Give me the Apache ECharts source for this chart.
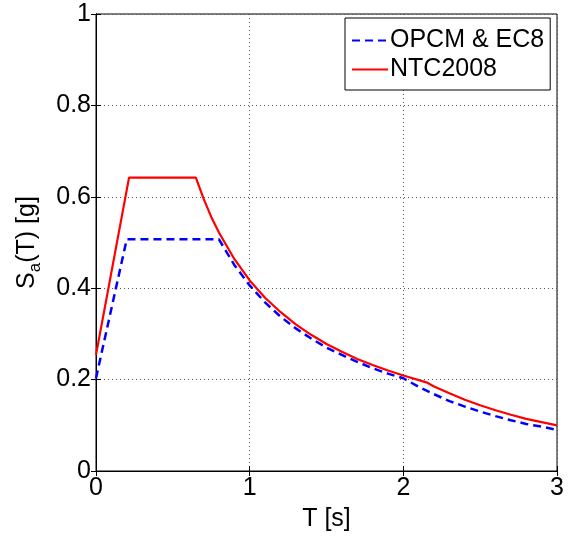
<!DOCTYPE html>
<html>
<head>
<meta charset="utf-8">
<script src="https://cdn.jsdelivr.net/npm/echarts@6/dist/echarts.min.js"></script>
<style>
  html, body { margin: 0; padding: 0; background: #fff; }
  #chart { width: 572px; height: 537px; }
</style>
</head>
<body>
<div id="chart"></div>
<script>
// spectra: [T (s), Sa (g)]
const opcmEc8 = [
  [0, 0.203], [0.2, 0.507], [0.8, 0.507], [0.9, 0.451], [1.0, 0.406],
  [1.1, 0.369], [1.2, 0.338], [1.3, 0.312], [1.4, 0.290], [1.5, 0.270],
  [1.6, 0.254], [1.7, 0.239], [1.8, 0.225], [1.9, 0.213], [2.0, 0.203],
  [2.1, 0.184], [2.2, 0.168], [2.3, 0.153], [2.4, 0.141], [2.5, 0.130],
  [2.6, 0.120], [2.7, 0.111], [2.8, 0.103], [2.9, 0.097], [3.0, 0.090]
];
const ntc2008 = [
  [0, 0.254], [0.215, 0.642], [0.65, 0.642], [0.7, 0.596], [0.75, 0.556],
  [0.8, 0.522], [0.9, 0.464], [1.0, 0.417], [1.1, 0.379], [1.2, 0.348],
  [1.3, 0.321], [1.4, 0.298], [1.5, 0.278], [1.6, 0.261], [1.7, 0.245],
  [1.8, 0.232], [1.9, 0.220], [2.0, 0.209], [2.15, 0.194], [2.2, 0.185],
  [2.3, 0.170], [2.4, 0.156], [2.5, 0.144], [2.6, 0.133], [2.7, 0.123],
  [2.8, 0.114], [2.9, 0.107], [3.0, 0.100]
];
const seriesNames = ['OPCM & EC8', 'NTC2008'];

const font = 'Liberation Sans, Arial, Helvetica, sans-serif';
const chart = echarts.init(document.getElementById('chart'), null, { renderer: 'canvas' });

const gridLine = { show: true, lineStyle: { color: '#555', type: [1, 3], width: 1 } };
const inTick = { show: true, inside: true, length: 5, lineStyle: { color: '#000' } };

chart.setOption({
  animation: false,
  backgroundColor: '#fff',
  textStyle: { fontFamily: font },
  grid: { left: 96, right: 15, top: 14, bottom: 57, show: true, borderColor: '#000', borderWidth: 1 },
  legend: {
    data: seriesNames,
    orient: 'vertical',
    left: 345,
    top: 18,
    padding: [10, 6, 8, 6],
    itemGap: 4,
    itemWidth: 36,
    itemHeight: 14,
    itemStyle: { opacity: 0 },
    backgroundColor: '#fff',
    borderColor: '#000',
    borderWidth: 1,
    borderRadius: 0,
    textStyle: { fontSize: 25, color: '#000', fontFamily: font, padding: [0, 0, 0, -3] }
  },
  xAxis: [{
    type: 'value', min: 0, max: 3, interval: 1,
    name: 'T [s]', nameLocation: 'middle', nameGap: 36,
    nameTextStyle: { fontSize: 25, color: '#000' },
    axisLine: { lineStyle: { color: '#000' } },
    axisTick: inTick,
    axisLabel: { fontSize: 25, color: '#000', margin: 5 },
    splitLine: gridLine
  }, {
    type: 'value', min: 0, max: 3, interval: 1, position: 'top',
    axisLine: { show: true, lineStyle: { color: '#000' } },
    axisTick: inTick, axisLabel: { show: false }, splitLine: { show: false }
  }],
  yAxis: [{
    type: 'value', min: 0, max: 1, interval: 0.2,
    name: '{s|S}{sub|a}{s|(T) [g]}', nameLocation: 'middle', nameGap: 52,
    nameTextStyle: {
      rich: {
        s: { fontSize: 25, color: '#000', fontFamily: font },
        sub: { fontSize: 17, color: '#000', fontFamily: font, verticalAlign: 'bottom', padding: [16, 0, 0, 0] }
      }
    },
    axisLine: { lineStyle: { color: '#000' } },
    axisTick: inTick,
    axisLabel: { fontSize: 25, color: '#000', margin: 5, formatter: v => String(Math.round(v * 10) / 10) },
    splitLine: gridLine
  }, {
    type: 'value', min: 0, max: 1, interval: 0.2, position: 'right',
    axisLine: { show: true, lineStyle: { color: '#000' } },
    axisTick: inTick, axisLabel: { show: false }, splitLine: { show: false }
  }],
  series: [{
    name: seriesNames[0], type: 'line', data: opcmEc8, symbol: 'none',
    lineStyle: { color: '#0000ff', width: 2.5, type: [8, 5] },
    itemStyle: { color: '#0000ff' }, z: 3
  }, {
    name: seriesNames[1], type: 'line', data: ntc2008, symbol: 'none',
    lineStyle: { color: '#ff0000', width: 2.2, type: 'solid' },
    itemStyle: { color: '#ff0000' }, z: 4
  }]
});
</script>
</body>
</html>
